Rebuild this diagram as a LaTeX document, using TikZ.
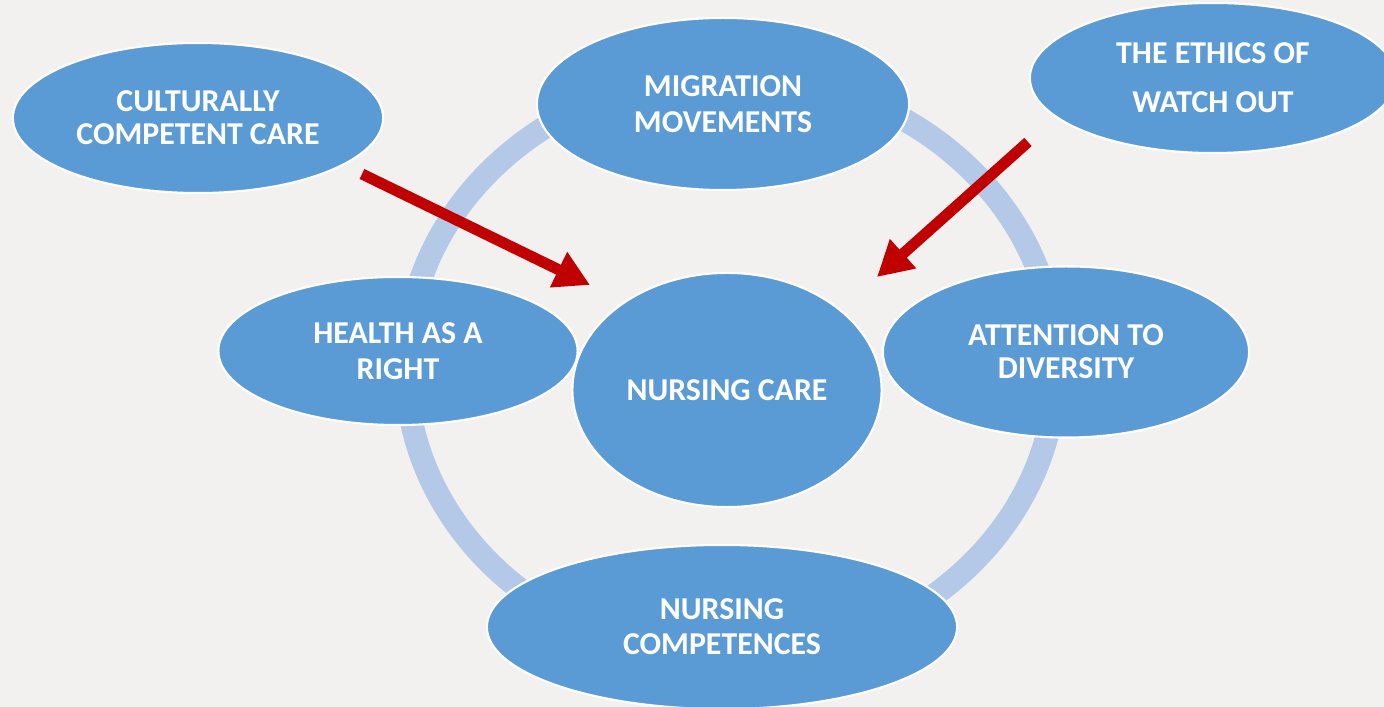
\documentclass[tikz,border=0pt]{standalone}
\usepackage{fontspec}
\setmainfont{Carlito}
\usetikzlibrary{shapes.geometric,arrows.meta}
\definecolor{paper}{HTML}{F2F1F0}
\definecolor{bubbleblue}{HTML}{5B9BD5}
\definecolor{ringblue}{HTML}{B4C8E8}
\definecolor{arrowred}{HTML}{C00000}
\tikzset{
  bubble/.style={ellipse, fill=bubbleblue, draw=white, line width=0.6pt, inner sep=0pt,
    text=white, align=center, font=\fontsize{9.05}{9.4}\selectfont\bfseries},
  ring/.style={draw=ringblue, line width=0.23cm},
  push/.style={draw=arrowred, line width=0.11cm, -{Triangle[length=0.35cm,width=0.37cm]}}
}

\begin{document}
\begin{tikzpicture}[x=0.01cm,y=-0.01cm]
        \fill[paper] (0,0) rectangle (1384,707);
        \useasboundingbox (0,0) rectangle (1384,707);
        \draw[ring] (731,367) ellipse [x radius=3.25cm, y radius=2.92cm];
        \node[bubble, minimum width=3.70cm, minimum height=1.50cm] (CCC) at (198,118) {CULTURALLY\\COMPETENT CARE};
        \node[bubble, minimum width=3.72cm, minimum height=1.72cm] (MM) at (723,104) {MIGRATION\\[0.85pt]MOVEMENTS};
        \node[bubble, minimum width=3.66cm, minimum height=1.50cm] (EW) at (1213,78) {THE ETHICS OF\\[4.5pt]WATCH OUT};
        \node[bubble, minimum width=3.59cm, minimum height=1.48cm] (HR) at (398,351) {HEALTH AS A\\[0.85pt]RIGHT};
        \node[bubble, minimum width=3.09cm, minimum height=2.34cm] (NC) at (727,390) {NURSING CARE};
        \node[bubble, minimum width=3.66cm, minimum height=1.71cm] (AD) at (1066,352) {ATTENTION TO\\DIVERSITY};
        \node[bubble, minimum width=4.70cm, minimum height=1.64cm] (NCO) at (722,627) {NURSING\\[0.55pt]COMPETENCES};
        \coordinate (S1) at (362,174);
        \coordinate (T1) at (590,285);
        \coordinate (S2) at (1028,142);
        \coordinate (T2) at (877,277);
        \draw[push] (S1) -- (T1);
        \draw[push] (S2) -- (T2);
      \end{tikzpicture}
\end{document}
